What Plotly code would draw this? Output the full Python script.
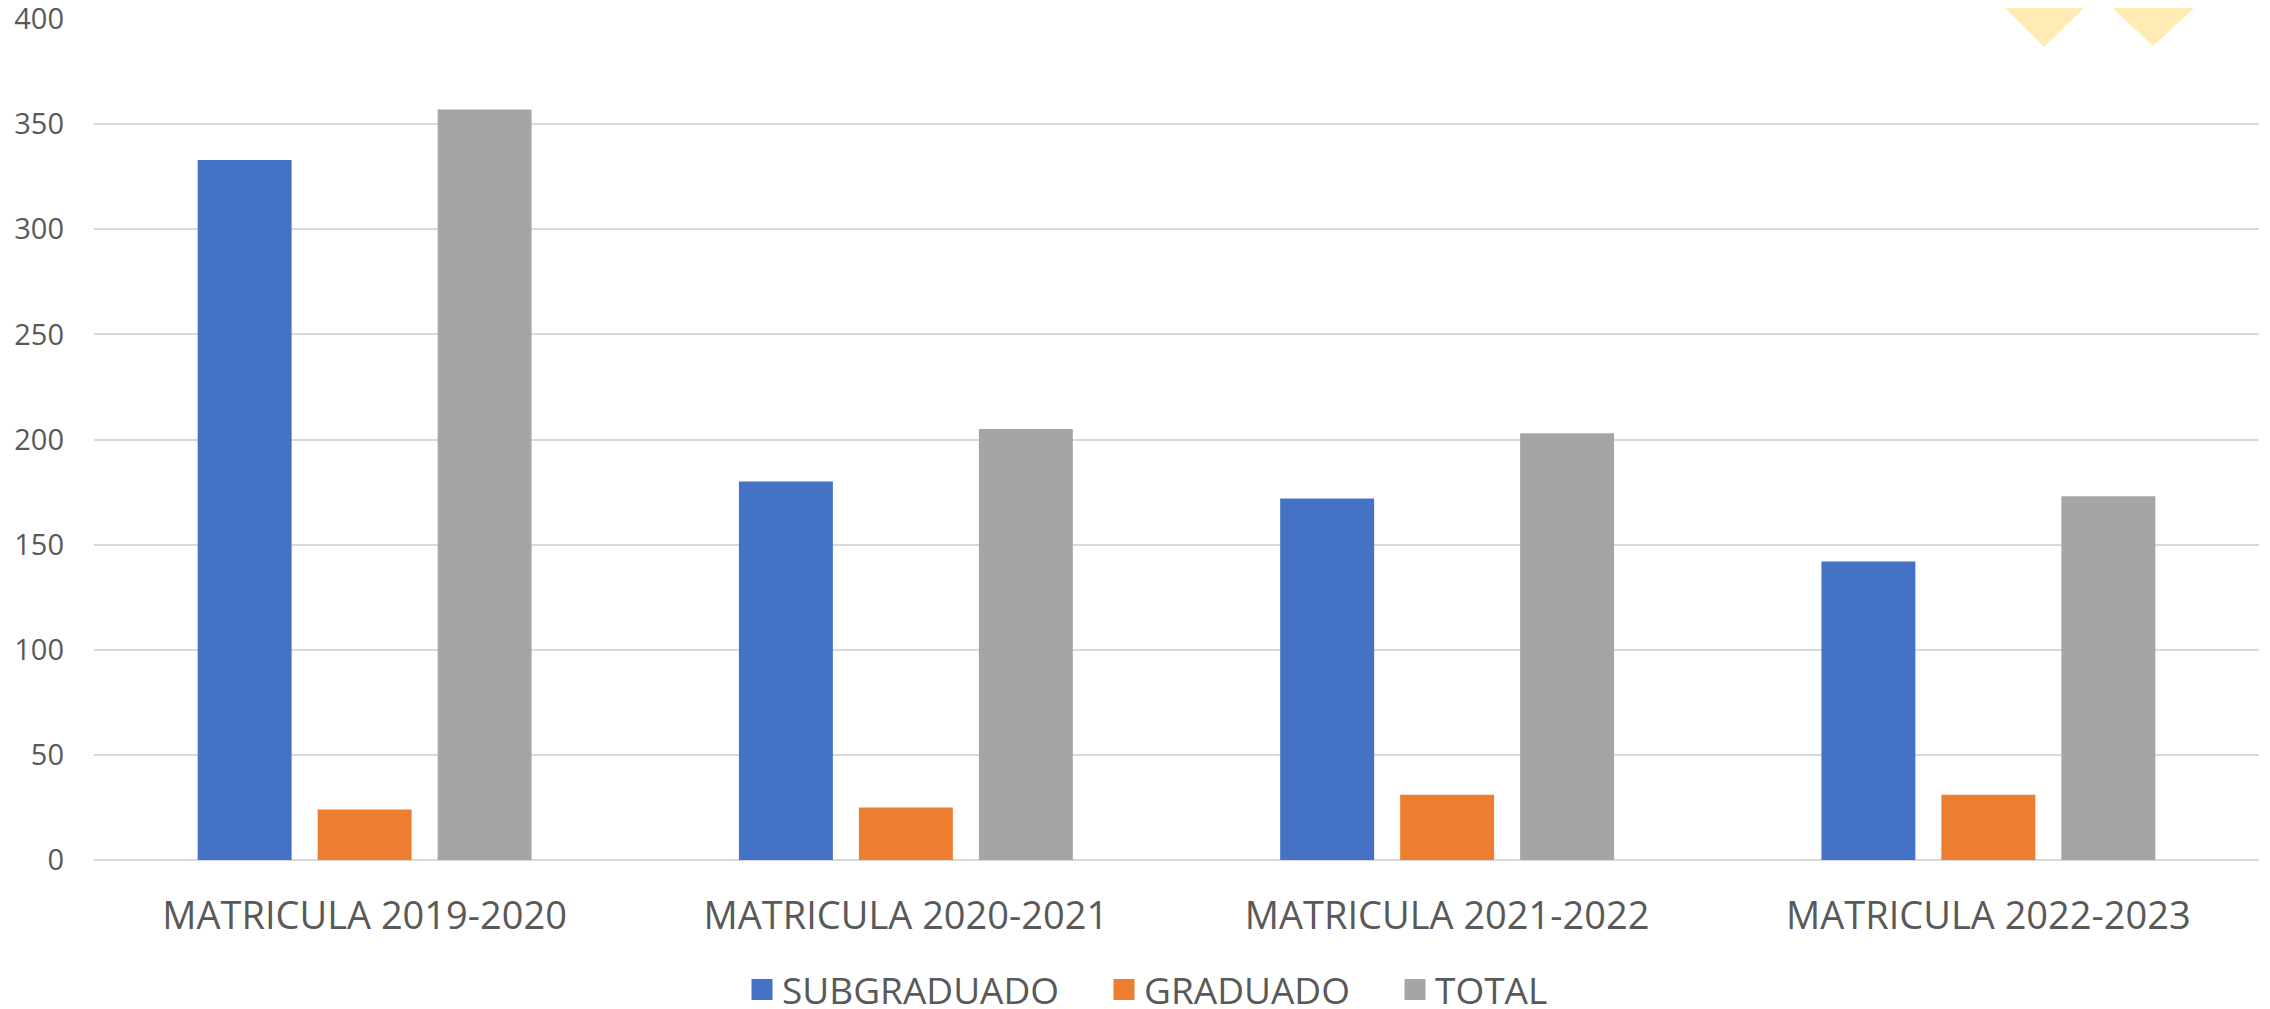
import plotly.graph_objects as go

categories = ["MATRICULA 2019-2020", "MATRICULA 2020-2021", "MATRICULA 2021-2022", "MATRICULA 2022-2023"]
subgraduado = [333, 180, 172, 142]
graduado = [24, 25, 31, 31]
total = [357, 205, 203, 173]
y_ticks = [0, 50, 100, 150, 200, 250, 300, 350, 400]

series = [
    ("SUBGRADUADO", subgraduado, "#4472C4"),
    ("GRADUADO", graduado, "#ED7D31"),
    ("TOTAL", total, "#A5A5A5"),
]

# page body adds an 8px margin; size the figure so it lands on the 2270x1009 view
OFF = 8
W, H = 2270 - OFF, 1009 - OFF
PL, PR, PT, PB = 94, 2259, 19, 860          # plot area in view pixels
ML, MR, MT, MB = PL - OFF, W - (PR - OFF), PT - OFF, H - (PB - OFF)
TXT = "#595959"
FONT = "Open Sans"

pw = PR - PL
ph = PB - PT


def px(x):
    return (x - PL) / pw


def py(y):
    return (PB - y) / ph


legend_ids = ["legend", "legend2", "legend3"]
legend_left = [742, 1104, 1395]

fig = go.Figure()
for name, vals, col in series:
    fig.add_trace(go.Bar(x=categories, y=vals, name=name, marker=dict(color=col, line=dict(width=0)),
                         showlegend=False))
# legend entries with larger square icons
for (name, vals, col), lid in zip(series, legend_ids):
    fig.add_trace(go.Scatter(x=[None], y=[None], mode="markers", name=name, legend=lid,
                             marker=dict(symbol="square", size=16, color=col,
                                         line=dict(color=col, width=5)),
                             showlegend=True))

shapes = []
for (x0, x1, ax, ay) in [(1997, 2092, 2044, 47), (2104, 2203, 2153, 46)]:
    shapes.append(dict(type="path", xref="paper", yref="paper", layer="below",
                       path=f"M{px(x0 - 4)},{py(-4)} L{px(x1 + 4)},{py(-4)} L{px(ax)},{py(ay)} Z",
                       fillcolor="#FFEBB3", line=dict(width=0)))

legend_common = dict(orientation="h", xref="paper", yref="paper", xanchor="left",
                     yanchor="middle", y=py(990),
                     font=dict(size=37, color=TXT, family=FONT),
                     bgcolor="rgba(0,0,0,0)", borderwidth=0)
legends = {lid: dict(legend_common, x=px(lx)) for lid, lx in zip(legend_ids, legend_left)}

fig.update_layout(
    width=W, height=H,
    margin=dict(l=ML, r=MR, t=MT, b=MB, autoexpand=False),
    paper_bgcolor="white", plot_bgcolor="rgba(0,0,0,0)",
    barmode="group", bargap=0.335, bargroupgap=0.217,
    font=dict(family=FONT, color=TXT),
    shapes=shapes,
    xaxis=dict(type="category", showgrid=False, zeroline=False, showline=False, automargin=False,
               ticks="", tickfont=dict(size=38, color=TXT, family=FONT),
               ticklabelstandoff=30, ticklabeloverflow="allow"),
    yaxis=dict(range=[0, 400.02], tickvals=y_ticks, showgrid=True, gridcolor="#D9D9D9", gridwidth=2,
               zeroline=True, zerolinecolor="#D9D9D9", zerolinewidth=2, showline=False,
               automargin=False, ticklabeloverflow="allow",
               ticks="", tickfont=dict(size=29, color=TXT, family=FONT),
               ticklabelstandoff=29),
    **legends,
)

fig.write_html("out.html")
